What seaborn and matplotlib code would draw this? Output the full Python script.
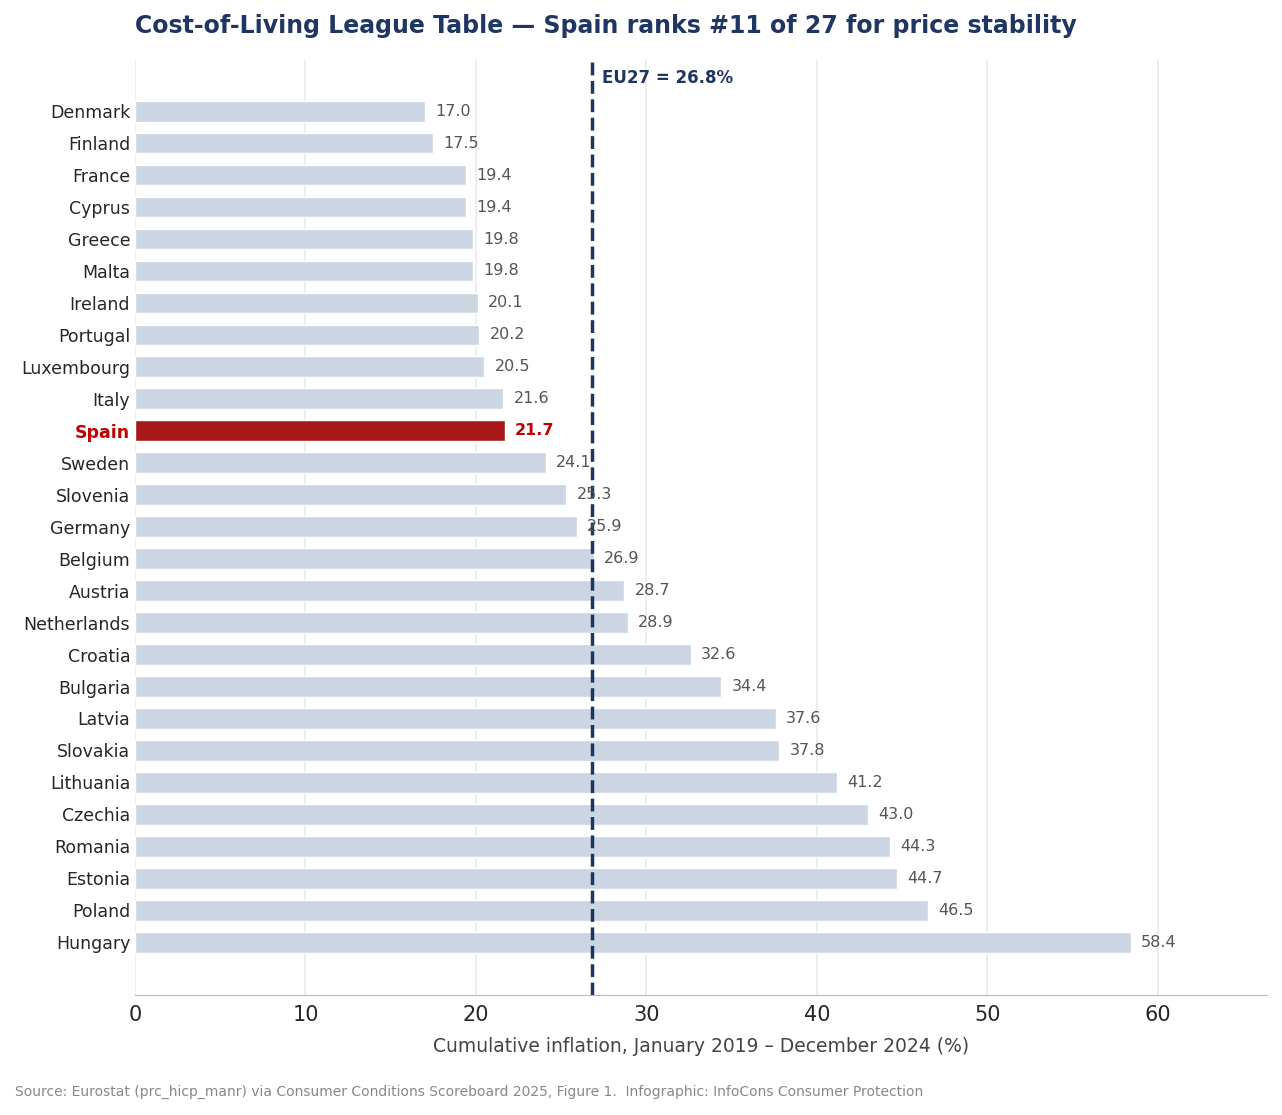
import pandas as pd
import seaborn as sns
import matplotlib.pyplot as plt

countries = ['Denmark', 'Finland', 'France', 'Cyprus', 'Greece', 'Malta', 'Ireland',
             'Portugal', 'Luxembourg', 'Italy', 'Spain', 'Sweden', 'Slovenia', 'Germany',
             'Belgium', 'Austria', 'Netherlands', 'Croatia', 'Bulgaria', 'Latvia',
             'Slovakia', 'Lithuania', 'Czechia', 'Romania', 'Estonia', 'Poland', 'Hungary']
inflation = [17.0, 17.5, 19.4, 19.4, 19.8, 19.8, 20.1, 20.2, 20.5, 21.6, 21.7, 24.1,
             25.3, 25.9, 26.9, 28.7, 28.9, 32.6, 34.4, 37.6, 37.8, 41.2, 43.0, 44.3,
             44.7, 46.5, 58.4]
eu27 = 26.8
highlight = 'Spain'

df = pd.DataFrame({'country': countries, 'value': inflation})
navy = '#1f3562'
red = '#c00000'
base = '#c9d5e5'
palette = {c: (red if c == highlight else base) for c in countries}

sns.set_style('white')
fig = plt.figure(figsize=(12.82, 11.15), dpi=100)
ax = fig.add_axes([135/1282, 1 - 995/1115, 1132/1282, 935/1115])
sns.barplot(data=df, y='country', x='value', hue='country', palette=palette,
            legend=False, width=0.65, ax=ax, zorder=2)
ax.set_xlim(0, 66.4)
ax.set_ylim(27.65, -1.6)
ax.grid(axis='x', color='#ebebeb', linewidth=1.2, zorder=0)
ax.set_axisbelow(True)
for s in ['top', 'right', 'left']:
    ax.spines[s].set_visible(False)
ax.spines['bottom'].set_color('#bbbbbb')
ax.tick_params(axis='y', length=0, labelsize=12.5)
ax.tick_params(axis='x', labelsize=15, length=4, color='#bbbbbb')
ax.set_ylabel('')
ax.set_xlabel('Cumulative inflation, January 2019 – December 2024 (%)', fontsize=13.5,
              color='#444444', labelpad=8)
for lbl in ax.get_yticklabels():
    if lbl.get_text() == highlight:
        lbl.set_color(red)
        lbl.set_fontweight('bold')

for i, (c, v) in enumerate(zip(countries, inflation)):
    if c == highlight:
        ax.text(v + 0.6, i, f'{v:.1f}', va='center', fontsize=11.5, color=red, fontweight='bold', zorder=4)
    else:
        ax.text(v + 0.6, i, f'{v:.1f}', va='center', fontsize=11.5, color='#555555', zorder=4)

ax.axvline(eu27, color=navy, linestyle='--', linewidth=2.5, zorder=3)
ax.text(eu27 + 0.6, -1.05, f'EU27 = {eu27}%', color=navy, fontsize=12, fontweight='bold', va='center')

fig.text(135/1282, 1 - 26/1115, 'Cost-of-Living League Table — Spain ranks #11 of 27 for price stability',
         fontsize=17, fontweight='bold', color=navy, va='center', ha='left')
fig.text(15/1282, 1 - 1092/1115,
         'Source: Eurostat (prc_hicp_manr) via Consumer Conditions Scoreboard 2025, Figure 1.  Infographic: InfoCons Consumer Protection',
         fontsize=10, color='#888888', va='center', ha='left')
fig.savefig('out.png', dpi=100)
